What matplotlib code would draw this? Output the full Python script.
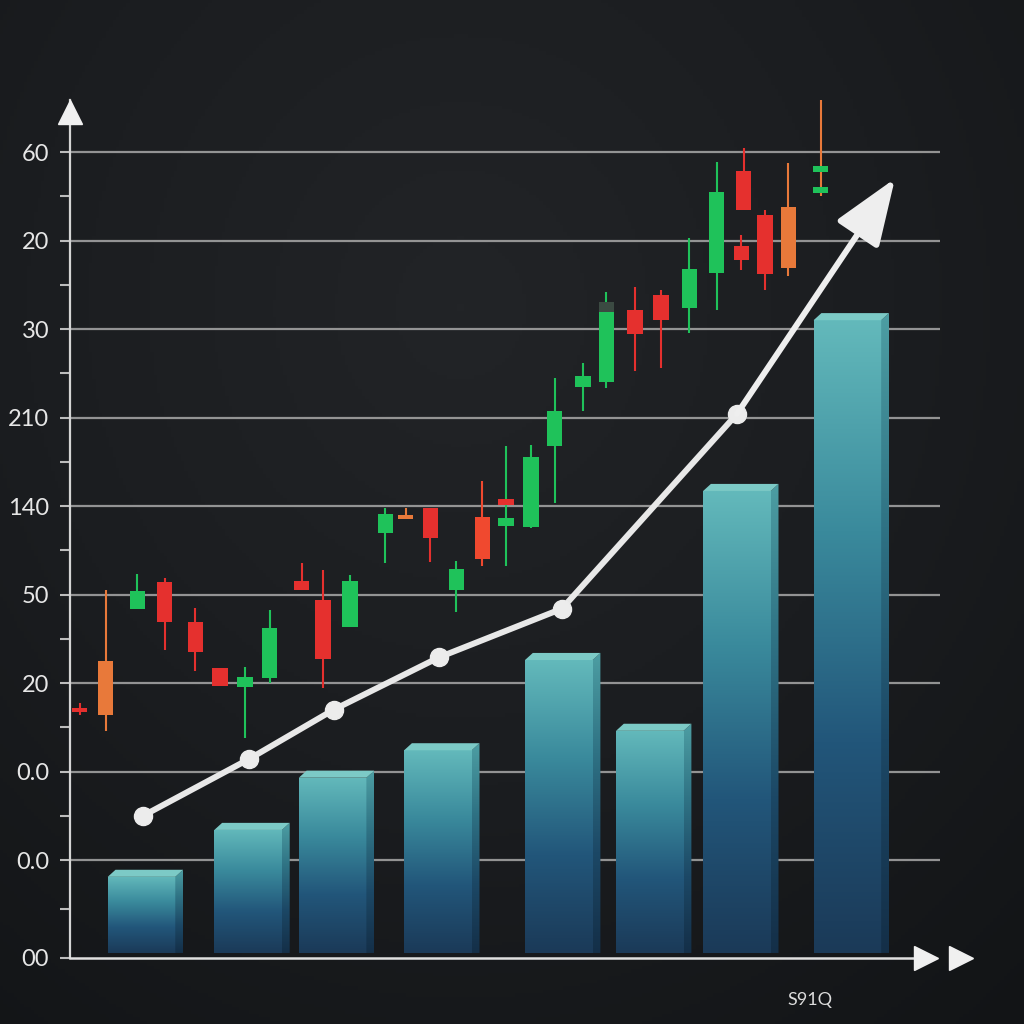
import numpy as np
import matplotlib
matplotlib.use("Agg")
import matplotlib.pyplot as plt
from matplotlib.patches import Rectangle, Polygon
from matplotlib.colors import LinearSegmentedColormap
import matplotlib.transforms as mtransforms

plt.rcParams['font.family'] = ['Lato', 'DejaVu Sans']

# ---- data ----
# y tick labels (bottom to top) as they appear on the chart
ytick_pos = [-1.107, 0, 1, 2, 3, 4, 5, 6, 7, 8]
ytick_labels = ["00", "0.0", "0.0", "20", "50", "140", "210", "30", "20", "60"]

# bars
bar_x = [2.75, 6.85, 10.1, 14.15, 18.8, 22.3, 25.65, 29.9]
bar_h = [-0.19, 0.34, 0.93, 1.24, 2.26, 1.46, 4.17, 6.10]

# trend line
line_x = [2.81, 6.88, 10.15, 14.19, 18.92, 25.65]
line_y = [0.50, 1.14, 1.70, 2.29, 2.84, 5.04]
arrow_tip = (31.73, 7.70)

# candlesticks
c_x = [0.38, 1.37, 2.58, 3.65, 4.81, 5.77, 6.73, 7.69, 8.92, 9.73,
       10.77, 12.12, 12.92, 13.85, 14.85, 15.85, 16.77, 17.73, 18.65, 19.73,
       20.62, 21.73, 22.73, 23.81, 24.88, 25.92, 25.81, 26.73, 27.62]
c_lo = [1.67, 1.64, 2.84, 2.69, 2.35, 1.97, 1.96, 2.06, 3.05, 2.27,
        2.63, 3.70, 3.85, 3.64, 3.05, 3.40, 3.77, 3.76, 4.68, 5.35,
        5.40, 5.94, 6.10, 6.24, 6.63, 7.35, 6.78, 6.62, 6.69]
c_hi = [1.72, 2.25, 3.04, 3.14, 2.69, 2.17, 2.07, 2.62, 3.15, 2.94,
        3.15, 3.91, 3.90, 3.98, 3.29, 3.88, 3.86, 4.55, 5.07, 5.47,
        6.31, 6.22, 6.38, 6.68, 7.55, 7.79, 6.94, 7.29, 7.38]
c_high = [1.77, 3.05, 3.23, 3.19, 2.85, 2.17, 2.18, 2.83, 3.36, 3.28,
          3.22, 3.98, 3.98, 3.98, 3.38, 4.28, 4.68, 4.69, 5.45, 5.62,
          6.42, 6.48, 6.44, 7.03, 7.89, 8.05, 7.06, 7.35, 7.88]
c_low = [1.64, 1.46, 2.84, 2.37, 2.14, 1.97, 1.38, 2.00, 3.05, 1.94,
         2.63, 3.36, 3.85, 3.37, 2.80, 3.32, 3.32, 3.75, 4.03, 5.07,
         5.33, 5.53, 5.56, 5.96, 6.22, 7.35, 6.67, 6.44, 6.60]
c_col = ['r', 'o', 'g', 'r', 'r', 'r', 'g', 'g', 'r', 'r',
         'g', 'g', 'o', 'r', 'g', 'R', 'g', 'g', 'g', 'g',
         'g', 'r', 'r', 'g', 'g', 'r', 'r', 'r', 'o']
# last wick-only candle and small dashes
last_x, last_high, last_low = 28.88, 8.59, 7.50
dash_x = [16.77, 28.88, 28.88]
dash_y = [4.05, 7.81, 7.57]
dash_c = ['r', 'g', 'g']

colors = {'g': '#1fc25a', 'r': '#e5302e', 'o': '#e8793a', 'R': '#f0492f'}

# ---- figure ----
fig = plt.figure(figsize=(10.24, 10.24), dpi=100)
bg = fig.add_axes([0, 0, 1, 1])
bg.set_axis_off()
yy, xx = np.mgrid[0:1:300j, 0:1:300j]
r = np.sqrt(((xx - 0.45) / 1.0) ** 2 + ((yy - 0.3) / 1.1) ** 2)
bg_cmap = LinearSegmentedColormap.from_list("bg", ["#222427", "#1b1d20", "#121416"])
bg.imshow(r, cmap=bg_cmap, extent=[0, 1, 0, 1], origin="upper", aspect="auto", vmin=0, vmax=0.85)

ax = fig.add_axes([70 / 1024, 66 / 1024, 870 / 1024, 858 / 1024])
ax.patch.set_alpha(0)

for s in ['top', 'right', 'bottom']:
    ax.spines[s].set_visible(False)
ax.spines['left'].set_color('#d4d4d4')
ax.spines['left'].set_linewidth(1.6)

ax.set_xticks([])
ax.set_yticks(ytick_pos)
ax.set_yticklabels(ytick_labels)
ax.set_yticks([-0.55, 0.5, 1.5, 2.5, 3.5, 4.5, 5.5, 6.5, 7.5], minor=True)
ax.tick_params(axis='y', which='both', length=7, width=1.5, color='#bdbdbd',
               labelcolor='#e6e6e6', labelsize=17, pad=8)

for g in range(9):
    ax.axhline(g, color='#a9a9a9', lw=1.6, alpha=0.85, zorder=1)

# axes arrows
ax.plot([0, 845 / 870], [0, 0], transform=ax.transAxes, color='#e0e0e0', lw=1.8,
        clip_on=False, zorder=6)
up = mtransforms.offset_copy(ax.transAxes, fig=fig, x=0, y=-12, units='dots')
ax.plot([0], [1], marker='^', ms=17, color='#f0f0f0', transform=up, clip_on=False, zorder=6)
ax.plot([856 / 870, 891 / 870], [0, 0], marker='>', ms=17, ls='none', color='#f0f0f0',
        transform=ax.transAxes, clip_on=False, zorder=6)

# candles
body_w = 0.58
for x, lo, hi, h, l, c in zip(c_x, c_lo, c_hi, c_high, c_low, c_col):
    col = colors[c]
    ax.vlines(x, l, h, color=col, lw=1.5, zorder=2)
    ax.add_patch(Rectangle((x - body_w / 2, lo), body_w, hi - lo, color=col, lw=0, zorder=3))
ax.add_patch(Rectangle((20.62 - body_w / 2, 6.19), body_w, 0.12, color='#3b4a42', lw=0, zorder=4))
ax.vlines(last_x, last_low, last_high, color=colors['o'], lw=1.5, zorder=2, clip_on=False)
for x, y, c in zip(dash_x, dash_y, dash_c):
    ax.add_patch(Rectangle((x - body_w / 2, y - 0.035), body_w, 0.07, color=colors[c], lw=0, zorder=3))

# bars with gradient and 3d top
bar_w = 2.6
dx, dy = 0.3, 0.08
base = -1.05
front_cmap = LinearSegmentedColormap.from_list("front", ["#1b3a58", "#22567a", "#3a8a9c", "#63b9bb"])
side_cmap = LinearSegmentedColormap.from_list("side", ["#142f48", "#1c4866", "#2f7284", "#4d9ea3"])
grad = np.linspace(0, 1, 256).reshape(-1, 1)
for x, h in zip(bar_x, bar_h):
    left, right = x - bar_w / 2, x + bar_w / 2
    front = Rectangle((left, base), bar_w, h - base, lw=0, facecolor='none', zorder=4)
    ax.add_patch(front)
    im = ax.imshow(grad, cmap=front_cmap, origin='lower', aspect='auto',
                   extent=[left, right, base, h], zorder=4)
    im.set_clip_path(front)
    side = Polygon([(right, base), (right, h), (right + dx, h + dy), (right + dx, base)],
                   closed=True, lw=0, facecolor='none', zorder=4)
    ax.add_patch(side)
    im2 = ax.imshow(grad, cmap=side_cmap, origin='lower', aspect='auto',
                    extent=[right, right + dx, base, h + dy], zorder=4)
    im2.set_clip_path(side)
    ax.add_patch(Polygon([(left, h), (right, h), (right + dx, h + dy), (left + dx, h + dy)],
                         closed=True, lw=0, facecolor='#7ccac6', zorder=4))
ax.set_xlim(0, 870 / 26)
ax.set_ylim(-1.107, 8.588)

# trend line with arrow
ax.plot(line_x, line_y, color='#e8e8e8', lw=4.3, marker='o', ms=13,
        markerfacecolor='#ececec', markeredgecolor='#ececec', zorder=7, solid_capstyle='round')
ax.annotate('', xy=arrow_tip, xytext=(line_x[-1], line_y[-1]),
            arrowprops=dict(arrowstyle='-|>,head_length=4.1,head_width=1.55', mutation_scale=10,
                            color='#eeeeee', lw=4.3, shrinkA=0, shrinkB=0),
            zorder=7, annotation_clip=False)

fig.text(810 / 1024, 1 - 1000 / 1024, "S91Q", color='#dcdcdc', fontsize=13,
         ha='center', va='center', family=['Lato', 'DejaVu Sans'])

fig.savefig("out.png", dpi=100, facecolor='#1a1c1f')
